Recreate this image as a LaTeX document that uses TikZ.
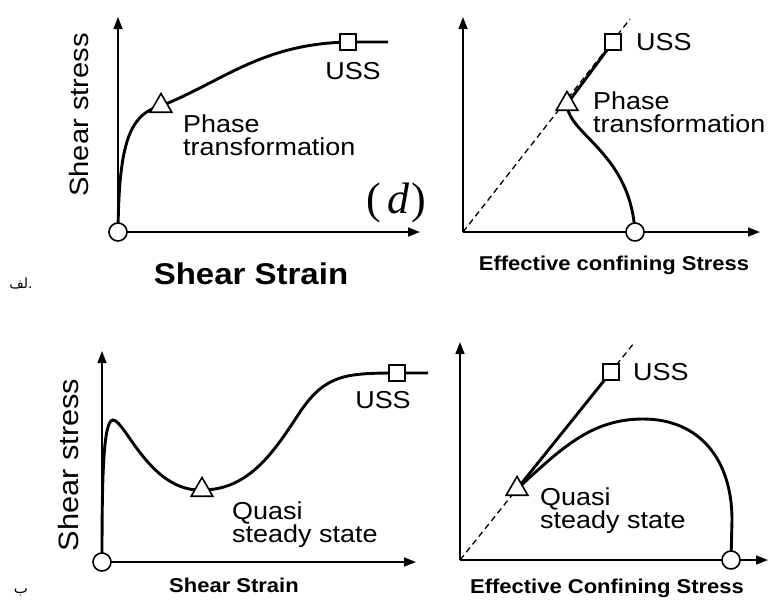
\documentclass[tikz,border=0pt]{standalone}
\usepackage{fontspec}
\setsansfont{Liberation Sans}[FakeStretch=1.1]
\newfontfamily\serifd{Liberation Serif}
\newfontfamily\arabicfont[Script=Arabic]{DejaVu Sans}
\TeXXeTstate=1
\usetikzlibrary{arrows.meta,shapes.geometric}
\begin{document}
\begin{tikzpicture}[x=1pt,y=-1pt,
  axis/.style={line width=1.6pt,-{Triangle[length=12pt,width=9pt]}},
  curve/.style={line width=2.9pt},
  guide/.style={line width=1.3pt,dash pattern=on 6pt off 4pt},
  circmark/.style={circle,draw,line width=1.6pt,fill=white,minimum size=18pt,inner sep=0pt},
  trimark/.style={regular polygon,regular polygon sides=3,draw,line width=1.6pt,fill=white,minimum size=25pt,inner sep=0pt},
  sqmark/.style={rectangle,draw,line width=1.6pt,fill=white,minimum size=16pt,inner sep=0pt},
  lbl/.style={font=\sffamily\fontsize{24.5}{23}\selectfont,align=left,inner sep=0pt},
  ylbl/.style={font=\sffamily\fontsize{26.5}{27}\selectfont,rotate=90,inner sep=0pt},
  xlbl/.style={font=\sffamily\bfseries\fontsize{20}{20}\selectfont,inner sep=0pt},
]
\useasboundingbox (0,0) rectangle (771,603);

% ---------- top left ----------
\coordinate (O1) at (118,232);
\coordinate (Y1) at (118,17);
\coordinate (X1) at (420,232);
\coordinate (T1) at (161,106);
\coordinate (S1) at (348,42);
\coordinate (E1) at (388,42);
\draw[axis] (O1) -- (Y1);
\draw[axis] (O1) -- (X1);
\draw[curve] (O1) .. controls (119,150) and (127,114) .. (T1)
  .. controls (225,80) and (262,44) .. (S1) -- (E1);
\node[circmark] (o1) at (O1) {};
\node[trimark] (t1) at (T1) {};
\node[sqmark] (s1) at (S1) {};
\node[lbl] (uss1) at (353,71) {USS};
\node[lbl,anchor=west] (pt1) at (183,135) {Phase\\transformation};
\node[inner sep=0pt,font=\serifd\fontsize{44}{46}\selectfont] (d) at (396,203) {(\hspace{0.14em}\textit{d}\hspace{0.04em})};
\node[ylbl] (ys1) at (79,115) {Shear stress};
\node[xlbl,font=\sffamily\bfseries\fontsize{30}{30}\selectfont] (xs1) at (251,274) {Shear Strain};

% ---------- top right ----------
\coordinate (O2) at (463,232);
\coordinate (Y2) at (463,17);
\coordinate (X2) at (760,232);
\coordinate (D2) at (630,19);
\coordinate (T2) at (567,104);
\coordinate (S2) at (613,42);
\coordinate (C2) at (635,232);
\draw[axis] (O2) -- (Y2);
\draw[axis] (O2) -- (X2);
\draw[guide] (O2) -- (D2);
\draw[curve] (S2) -- (T2);
\draw[curve] (T2) .. controls (568,135) and (630,152) .. (C2);
\node[circmark] (c2) at (C2) {};
\node[trimark] (t2) at (T2) {};
\node[sqmark] (s2) at (S2) {};
\node[lbl,anchor=west] (uss2) at (636,42) {USS};
\node[lbl,anchor=west] (pt2) at (593,112) {Phase\\transformation};
\node[xlbl] (xs2) at (614,265) {Effective confining Stress};

% ---------- bottom left ----------
\coordinate (O3) at (102,562);
\coordinate (Y3) at (102,351);
\coordinate (X3) at (416,562);
\coordinate (P3) at (113,420);
\coordinate (T3) at (202,490);
\coordinate (M3) at (300,412);
\coordinate (S3) at (397,373);
\coordinate (E3) at (428,373);
\draw[axis] (O3) -- (Y3);
\draw[axis] (O3) -- (X3);
\draw[curve] (O3) .. controls (102,480) and (103,420) .. (P3)
  .. controls (125,420) and (150,492) .. (T3)
  .. controls (250,490) and (275,450) .. (M3)
  .. controls (325,375) and (345,373) .. (S3) -- (E3);
\node[circmark] (o3) at (O3) {};
\node[trimark] (t3) at (T3) {};
\node[sqmark] (s3) at (S3) {};
\node[lbl] (uss3) at (383,400) {USS};
\node[lbl,anchor=west] (qs3) at (232,525) {Quasi\\steady state};
\node[ylbl,font=\sffamily\fontsize{28}{28}\selectfont] (ys3) at (68,465) {Shear stress};
\node[xlbl] (xs3) at (234,585) {Shear Strain};

% ---------- bottom right ----------
\coordinate (O4) at (460,560);
\coordinate (Y4) at (460,342);
\coordinate (X4) at (768,560);
\coordinate (D4) at (634,343);
\coordinate (T4) at (517,489);
\coordinate (S4) at (611,372);
\coordinate (A4) at (643,419);
\coordinate (B4) at (732,520);
\coordinate (C4) at (731,560);
\draw[axis] (O4) -- (Y4);
\draw[axis] (O4) -- (X4);
\draw[guide] (O4) -- (D4);
\draw[curve] (S4) -- (T4);
\draw[curve] (T4) .. controls (560,450) and (590,419) .. (A4)
  .. controls (700,419) and (732,460) .. (B4) -- (C4);
\node[circmark] (c4) at (C4) {};
\node[trimark] (t4) at (T4) {};
\node[sqmark] (s4) at (S4) {};
\node[lbl,anchor=west] (uss4) at (633,372) {USS};
\node[lbl,anchor=west] (qs4) at (540,511) {Quasi\\steady state};
\node[xlbl] (xs4) at (607,588) {Effective Confining Stress};

% ---------- side marks ----------
\node[inner sep=0pt,font=\arabicfont\fontsize{14}{14}\selectfont] (alef) at (21,283) {\beginR لف\endR.};
\node[inner sep=0pt,anchor=base,font=\arabicfont\fontsize{15}{15}\selectfont] (be) at (21,593) {\beginR ب\endR};
\end{tikzpicture}
\end{document}
